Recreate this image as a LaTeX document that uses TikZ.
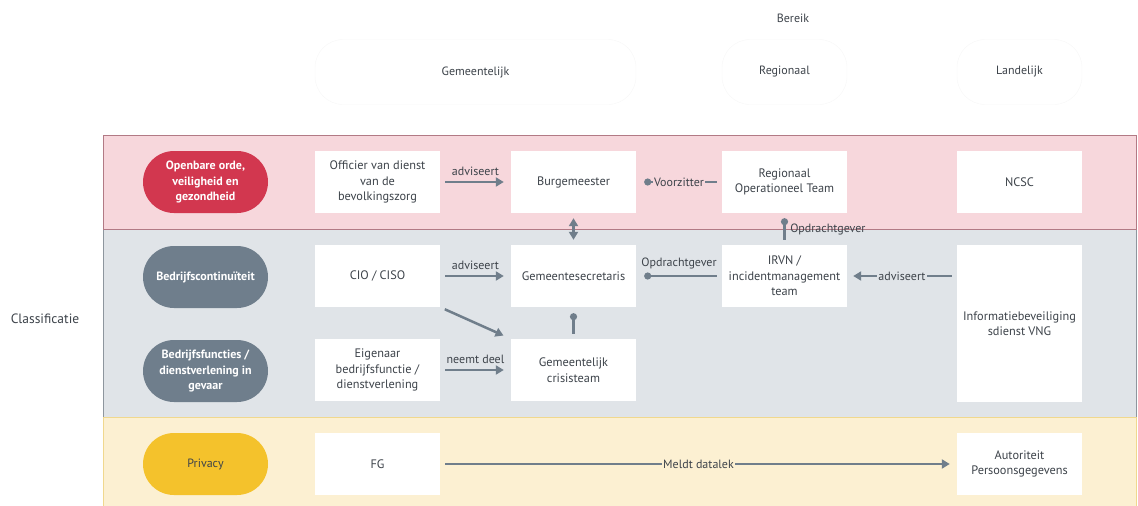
\documentclass[tikz,border=0pt]{standalone}
\usepackage{fontspec}
\setmainfont{PT Sans}
\usetikzlibrary{arrows.meta}
\definecolor{ordered}{HTML}{D2374F}
\definecolor{slate}{HTML}{6F7E8C}
\definecolor{privy}{HTML}{F4C22C}
\definecolor{pinkbg}{HTML}{F7D7DC}
\definecolor{pinkln}{HTML}{B27A85}
\definecolor{graybg}{HTML}{E0E4E8}
\definecolor{grayln}{HTML}{8E969E}
\definecolor{yellowbg}{HTML}{FCF0D2}
\definecolor{yellowln}{HTML}{F0D88E}
\definecolor{txt}{HTML}{3D434A}
\definecolor{edge}{HTML}{707E8B}
\begin{document}
\begin{tikzpicture}[x=1pt,y=-1pt,
    box/.style={fill=white,minimum width=125pt,minimum height=62pt,inner sep=2pt,
      align=center,text=txt,font=\fontsize{12.3}{15.5}\selectfont},
    head/.style={fill=white,draw=black!3,rounded corners=28pt,minimum height=65pt,
      text=txt,font=\fontsize{12}{14}\selectfont},
    pill/.style={rounded corners=31pt,minimum width=125pt,minimum height=62pt,
      align=center,text=white,font=\fontsize{12}{15.5}\selectfont\bfseries},
    lbl/.style={text=txt,inner sep=1.5pt,font=\fontsize{12}{14}\selectfont},
    link/.style={draw=edge,line width=2.5pt,-{Triangle[length=8pt,width=9pt]},
      shorten <=5pt,shorten >=7pt},
    tie/.style={draw=edge,line width=2.5pt,shorten <=5pt,shorten >=5pt}]
  \useasboundingbox (0,0) rectangle (1138,506);
  % bands
  \fill[graybg] (103,229) rectangle (1136,417);
  \draw[grayln,line width=1pt] (103,229) rectangle (1136,417);
  \fill[pinkbg] (103,135) rectangle (1136,229);
  \draw[pinkln,line width=1pt] (103,135) rectangle (1136,229);
  \fill[yellowbg] (103,417) rectangle (1136,506);
  \draw[yellowln,line width=1pt] (103,506) -- (103,417) -- (1136,417) -- (1136,506);
  % heads
  \node[lbl] (bereik) at (793,18) {Bereik};
  \node[head,minimum width=321pt] (gem) at (475.5,72) {Gemeentelijk};
  \node[head,minimum width=125pt] (reg) at (784.5,72) {Regionaal};
  \node[head,minimum width=125pt] (lan) at (1019.5,72) {Landelijk};
  \node[lbl,font=\fontsize{13.5}{16}\selectfont] (klas) at (45,319) {Classificatie};
  % classes
  \node[pill,fill=ordered] (ooz) at (205.5,182) {Openbare orde,\\veiligheid en\\gezondheid};
  \node[pill,fill=slate] (bc) at (205.5,277) {Bedrijfscontinuïteit};
  \node[pill,fill=slate] (bf) at (205.5,371) {Bedrijfsfuncties /\\dienstverlening in\\gevaar};
  \node[pill,fill=privy,text=txt,font=\fontsize{12}{15}\selectfont] (priv) at (205.5,464) {Privacy};
  % actors
  \node[box] (ovd) at (377.5,182) {Officier van dienst\\van de\\bevolkingszorg};
  \node[box] (burg) at (573.5,182) {Burgemeester};
  \node[box] (rot) at (784.5,182) {Regionaal\\Operationeel Team};
  \node[box] (ncsc) at (1019.5,182) {NCSC};
  \node[box] (cio) at (377.5,276) {CIO / CISO};
  \node[box] (gsec) at (573.5,276) {Gemeentesecretaris};
  \node[box] (irvn) at (784.5,276) {IRVN /\\incidentmanagement\\team};
  \node[box,minimum height=157pt] (vng) at (1019.5,323.5) {Informatiebeveiliging\\sdienst VNG};
  \node[box] (eig) at (377.5,370) {Eigenaar\\bedrijfsfunctie /\\dienstverlening};
  \node[box] (crisis) at (573.5,370) {Gemeentelijk\\crisisteam};
  \node[box] (fg) at (377.5,464) {FG};
  \node[box] (ap) at (1019.5,464) {Autoriteit\\Persoonsgegevens};
  % links
  \draw[link] (ovd) -- node[lbl,above=4pt] {adviseert} (burg);
  \draw[tie,{Circle[length=7pt]}-,shorten <=8pt] (burg) -- node[lbl,fill=pinkbg] {Voorzitter} (rot);
  \draw[link,{Triangle[length=8pt,width=9pt]}-{Triangle[length=8pt,width=9pt]},shorten >=5pt] (burg) -- (gsec);
  \draw[tie,{Circle[length=7pt]}-] (rot) -- node[lbl,right=3pt,yshift=-0.5pt] {Opdrachtgever} (irvn);
  \draw[tie,-{Circle[length=7pt]},shorten >=8pt] (irvn) -- node[lbl,above=4pt] {Opdrachtgever} (gsec);
  \draw[link,shorten >=6pt] (vng.west |- irvn) -- node[lbl,fill=graybg] {adviseert} (irvn);
  \draw[link] (cio) -- node[lbl,above=4pt] {adviseert} (gsec);
  \draw[link,shorten >=8pt] (cio.south east) -- (crisis.north west);
  \draw[tie,-{Circle[length=7pt]},shorten >=6pt] (crisis) -- (gsec);
  \draw[link] (eig) -- node[lbl,above=4pt] {neemt deel} (crisis);
  \draw[link] (fg) -- node[lbl,fill=yellowbg] {Meldt datalek} (ap);
\end{tikzpicture}
\end{document}
